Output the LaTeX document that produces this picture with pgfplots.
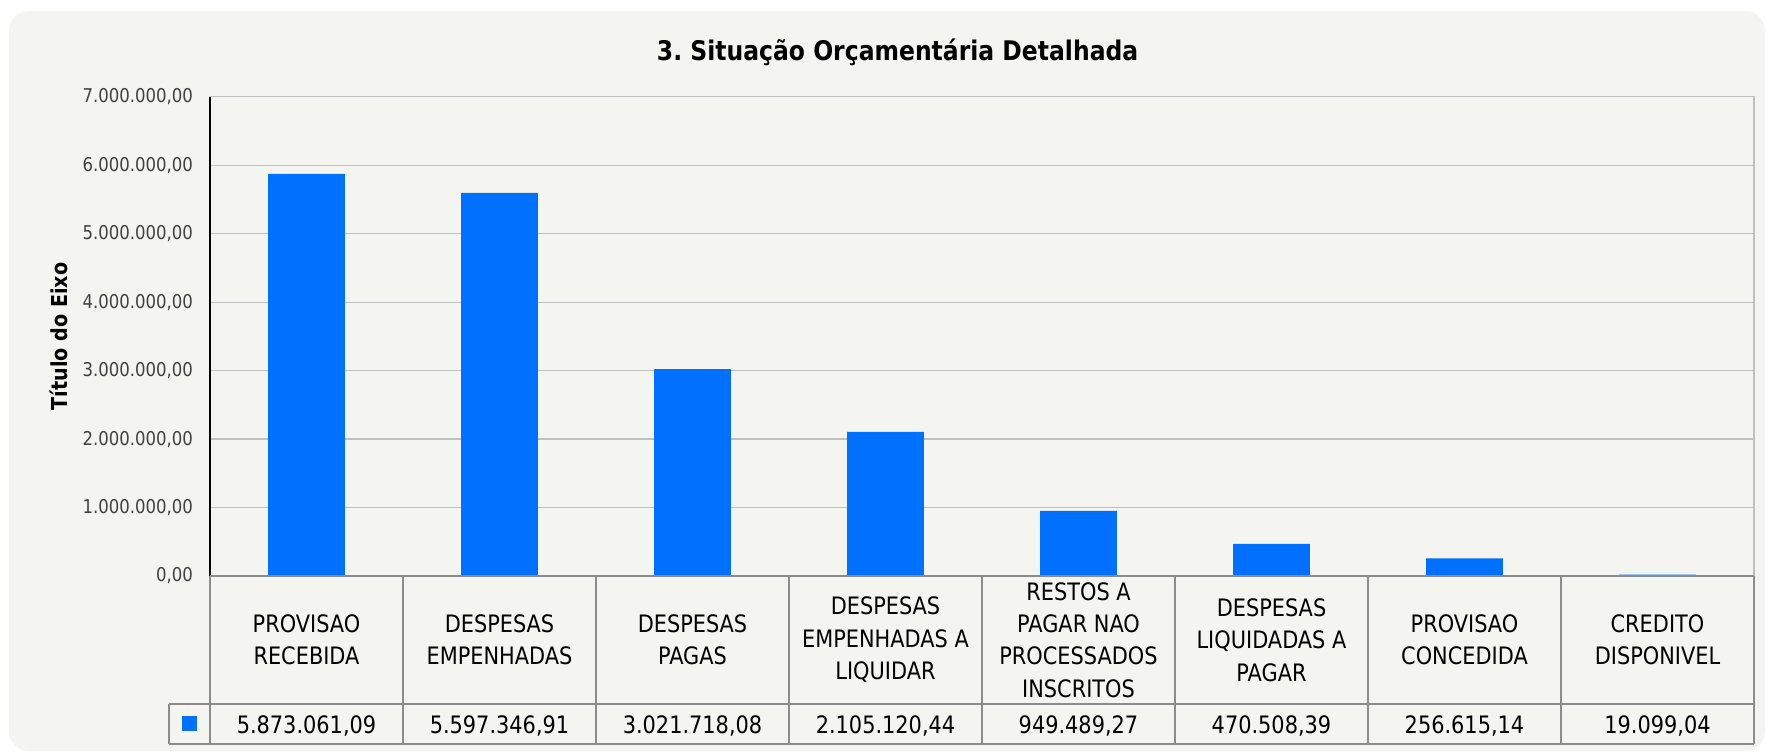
\documentclass[border=0pt]{standalone}
\usepackage{fontspec}
\setmainfont{DejaVu Sans}[FakeStretch=0.87]
\usepackage{pgfplots}
\pgfplotsset{compat=1.18}
\definecolor{panel}{RGB}{244,244,240}
\definecolor{barblue}{RGB}{0,112,255}
\definecolor{tabline}{RGB}{140,140,140}
\definecolor{gridc}{RGB}{192,192,192}
\definecolor{ticktext}{RGB}{64,64,64}
\frenchspacing
\begin{document}
\begin{tikzpicture}[x=1pt,y=1pt]
\useasboundingbox (0,0) rectangle (883.5,376);
\fill[white] (0,0) rectangle (883.5,376);
\fill[panel, rounded corners=10pt] (4.5,0.5) rectangle (882.5,370.5);
\begin{axis}[
  at={(105pt,88pt)}, anchor=south west,
  scale only axis, width=772pt, height=239.65pt,
  xmin=-0.5, xmax=7.5, ymin=0, ymax=7000000,
  axis line style={gridc, line width=0.6pt},
  major tick length=0pt,
  ymajorgrids, grid style={gridc, line width=0.6pt},
  scaled y ticks=false,
  ytick={0,1000000,2000000,3000000,4000000,5000000,6000000,7000000},
  yticklabels={{0,00},{1.000.000,00},{2.000.000,00},{3.000.000,00},{4.000.000,00},{5.000.000,00},{6.000.000,00},{7.000.000,00}},
  yticklabel style={font=\fontsize{9.5}{11}\selectfont, text=ticktext, xshift=-5pt},
  xtick={0,1,2,3,4,5,6,7},
  xticklabels={{PROVISAO\\RECEBIDA},{DESPESAS\\EMPENHADAS},{DESPESAS\\PAGAS},{DESPESAS\\EMPENHADAS A\\LIQUIDAR},{RESTOS A\\PAGAR NAO\\PROCESSADOS\\INSCRITOS},{DESPESAS\\LIQUIDADAS A\\PAGAR},{PROVISAO\\CONCEDIDA},{CREDITO\\DISPONIVEL}},
  xticklabel style={anchor=center, yshift=-32pt, align=center, font=\fontsize{12}{16.2}\selectfont, text=black},
  ybar, bar width=38.3pt,
]
\addplot[fill=barblue, draw=none] coordinates {
  (0,5873061.09) (1,5597346.91) (2,3021718.08) (3,2105120.44)
  (4,949489.27) (5,470508.39) (6,256615.14) (7,19099.04)
};
\end{axis}
\draw[black, line width=0.6pt] (105,88) -- (105,327.65);
\draw[tabline, line width=1pt] (105,88) -- (877,88);
\draw[tabline, line width=1pt] (84.5,24) -- (877,24);
\draw[tabline, line width=1pt] (84.5,4) -- (877,4);
\foreach \k in {0,...,8} \draw[tabline, line width=1pt] ({105+\k*96.5},4) -- ({105+\k*96.5},88);
\draw[tabline, line width=1pt] (84.5,4) -- (84.5,24);
\fill[barblue] (91.1,10.55) rectangle +(7.3,7.3);
\foreach \k/\v in {0/{5.873.061,09},1/{5.597.346,91},2/{3.021.718,08},3/{2.105.120,44},4/{949.489,27},5/{470.508,39},6/{256.615,14},7/{19.099,04}}
  \node[anchor=base, inner sep=0pt, font=\fontsize{12}{14}\selectfont] at ({153.25+\k*96.5},9.35) {\v};
\node[anchor=base, inner sep=0pt, font=\bfseries\fontsize{13.5}{16}\selectfont] at (448.8,345.5) {3. Situação Orçamentária Detalhada};
\node[rotate=90, anchor=center, inner sep=0pt, font=\bfseries\fontsize{11}{13}\selectfont] at (29.3,207.8) {Título do Eixo};
\end{tikzpicture}
\end{document}
